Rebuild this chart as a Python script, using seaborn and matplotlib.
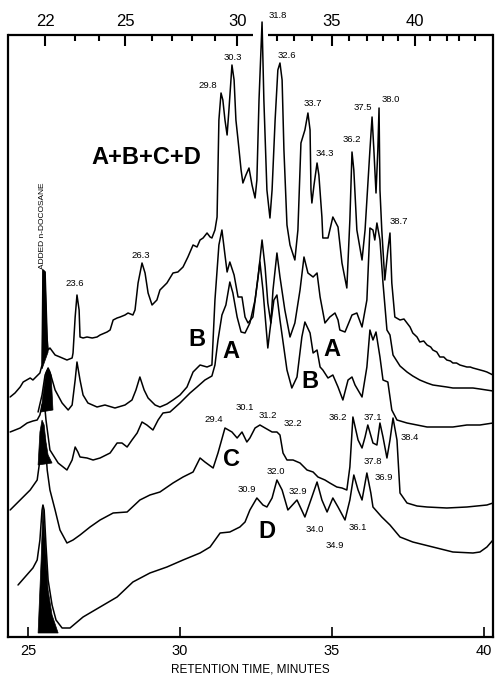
import matplotlib
matplotlib.use("Agg")
import matplotlib.pyplot as plt
import numpy as np
import pandas as pd
import seaborn as sns

# ---------------- data (retention time in minutes, detector response in arbitrary units) ----------------
abcd_time = [24.41, 24.57, 24.74, 24.84, 25.07, 25.16, 25.39, 25.46, 25.49, 25.56, 25.63, 25.66, 25.72, 25.89,
             26.05, 26.28, 26.45, 26.48, 26.55, 26.61, 26.68, 26.71, 26.81, 26.94, 27.11, 27.27, 27.37, 27.60,
             27.70, 27.80, 27.93, 28.03, 28.19, 28.29, 28.45, 28.52, 28.62, 28.75, 28.85, 28.95, 29.08, 29.24,
             29.34, 29.57, 29.77, 29.93, 30.10, 30.26, 30.43, 30.56, 30.66, 30.76, 30.89, 30.99, 31.05, 31.15,
             31.22, 31.25, 31.28, 31.35, 31.41, 31.48, 31.55, 31.61, 31.71, 31.78, 31.84, 31.91, 32.01, 32.07,
             32.17, 32.27, 32.37, 32.47, 32.53, 32.60, 32.70, 32.76, 32.86, 32.96, 33.03, 33.13, 33.22, 33.29,
             33.36, 33.42, 33.52, 33.62, 33.78, 33.88, 33.98, 34.11, 34.21, 34.28, 34.31, 34.34, 34.41, 34.51,
             34.57, 34.67, 34.70, 34.87, 35.03, 35.20, 35.33, 35.49, 35.59, 35.66, 35.72, 35.82, 35.99, 36.09,
             36.15, 36.25, 36.32, 36.38, 36.45, 36.51, 36.55, 36.58, 36.64, 36.74, 36.84, 36.91, 36.97, 37.07,
             37.24, 37.37, 37.47, 37.57, 37.66, 37.80, 37.89, 38.02, 38.13, 38.25, 38.32, 38.45, 38.55, 38.68,
             38.78, 38.90, 38.98, 39.10, 39.21, 39.33, 39.44, 39.55, 39.64, 39.76, 39.87, 40.00, 40.10, 40.30]
abcd_resp = [240, 244, 250, 255, 259, 257, 264, 272, 367, 365, 297, 287, 289, 282,
             280, 277, 279, 284, 320, 342, 327, 300, 299, 300, 299, 300, 302, 305,
             307, 317, 319, 320, 322, 324, 322, 327, 354, 374, 364, 344, 332, 337,
             347, 354, 364, 365, 370, 380, 392, 390, 397, 399, 404, 400, 399, 407,
             420, 467, 517, 544, 537, 517, 502, 527, 572, 557, 517, 497, 467, 454,
             462, 469, 452, 439, 457, 537, 615, 537, 447, 419, 447, 517, 567, 574,
             557, 487, 412, 392, 377, 407, 494, 507, 524, 507, 447, 434, 452, 474,
             462, 420, 399, 399, 420, 410, 374, 349, 417, 485, 467, 407, 377, 407,
             437, 487, 520, 487, 444, 487, 529, 447, 407, 357, 387, 404, 354, 320,
             317, 318, 314, 310, 304, 300, 295, 296, 292, 290, 287, 285, 280, 280,
             277, 276, 274, 274, 272, 271, 270, 270, 269, 268, 267, 266, 265, 262]

b_time = [25.33, 25.46, 25.56, 25.66, 25.72, 25.89, 26.12, 26.32, 26.45, 26.55, 26.61, 26.71, 26.81, 26.97,
          27.27, 27.53, 27.86, 28.19, 28.42, 28.55, 28.68, 28.82, 28.95, 29.18, 29.34, 29.57, 29.77, 30.00,
          30.23, 30.43, 30.66, 30.89, 31.05, 31.15, 31.28, 31.38, 31.48, 31.55, 31.64, 31.78, 31.91, 32.04,
          32.14, 32.24, 32.40, 32.57, 32.70, 32.80, 32.89, 32.99, 33.06, 33.19, 33.29, 33.45, 33.62, 33.78,
          33.95, 34.08, 34.21, 34.38, 34.51, 34.61, 34.77, 34.93, 35.10, 35.20, 35.26, 35.43, 35.66, 35.82,
          35.99, 36.15, 36.25, 36.35, 36.41, 36.48, 36.58, 36.68, 36.81, 36.91, 37.01, 37.24, 37.47, 37.66,
          37.89, 38.13, 38.32, 38.55, 38.78, 38.98, 39.31, 39.64, 39.87, 40.30]
b_resp = [225, 242, 262, 269, 265, 247, 234, 227, 232, 257, 275, 257, 242, 234,
          230, 232, 229, 232, 237, 247, 260, 247, 239, 232, 230, 233, 237, 242,
          250, 265, 272, 270, 272, 337, 392, 407, 382, 365, 375, 362, 340, 340,
          320, 314, 320, 360, 397, 370, 334, 314, 347, 384, 360, 327, 300, 314,
          347, 380, 364, 360, 364, 340, 314, 320, 324, 317, 307, 305, 322, 324,
          310, 337, 409, 407, 397, 414, 397, 354, 307, 302, 282, 271, 265, 261,
          257, 254, 252, 251, 250, 249, 249, 249, 248, 246]

a_time = [24.41, 24.74, 24.97, 25.16, 25.30, 25.39, 25.46, 25.53, 25.59, 25.72, 25.99, 26.28, 26.45, 26.55,
          26.64, 26.71, 26.94, 27.14, 27.37, 27.70, 27.93, 28.09, 28.26, 28.42, 28.59, 28.75, 28.91, 29.11,
          29.28, 29.44, 29.67, 30.00, 30.33, 30.56, 30.82, 31.05, 31.15, 31.25, 31.38, 31.51, 31.64, 31.74,
          31.88, 32.01, 32.14, 32.30, 32.47, 32.63, 32.73, 32.89, 32.96, 33.09, 33.19, 33.29, 33.52, 33.68,
          33.85, 34.01, 34.11, 34.28, 34.38, 34.51, 34.61, 34.70, 34.87, 35.03, 35.20, 35.36, 35.53, 35.66,
          35.76, 35.99, 36.15, 36.25, 36.35, 36.45, 36.58, 36.68, 36.84, 36.97, 37.14, 37.47, 37.80, 38.13,
          38.55, 38.98, 39.44, 39.87, 40.30]
a_resp = [205, 209, 214, 216, 217, 222, 232, 237, 217, 187, 174, 167, 177, 190,
          185, 180, 179, 177, 179, 184, 194, 194, 190, 197, 204, 215, 212, 207,
          217, 224, 225, 234, 244, 250, 257, 261, 272, 297, 322, 332, 355, 344,
          320, 305, 304, 314, 337, 375, 347, 289, 307, 337, 342, 317, 267, 249,
          260, 300, 315, 304, 284, 287, 270, 267, 259, 262, 250, 237, 257, 260,
          252, 240, 270, 307, 297, 305, 280, 257, 255, 227, 217, 214, 212, 210,
          210, 210, 212, 212, 214]

c_time = [24.41, 24.74, 25.07, 25.30, 25.39, 25.46, 25.49, 25.56, 25.63, 25.72, 25.89, 26.05, 26.28, 26.48,
          26.71, 27.04, 27.37, 27.80, 28.26, 28.68, 29.01, 29.34, 29.77, 30.10, 30.43, 30.66, 30.82, 31.09,
          31.25, 31.48, 31.71, 31.88, 32.04, 32.20, 32.30, 32.47, 32.63, 32.80, 33.03, 33.19, 33.29, 33.39,
          33.52, 33.72, 33.95, 34.18, 34.38, 34.54, 34.77, 34.93, 35.16, 35.33, 35.49, 35.59, 35.69, 35.86,
          35.99, 36.09, 36.18, 36.35, 36.48, 36.58, 36.68, 36.81, 36.91, 37.01, 37.14, 37.24, 37.47, 37.80,
          38.13, 38.78, 39.44, 40.10, 40.30]
c_resp = [127, 137, 147, 157, 177, 197, 201, 197, 167, 147, 127, 107, 94, 97,
          102, 110, 117, 124, 125, 137, 142, 145, 154, 160, 165, 179, 175, 169,
          184, 209, 205, 199, 205, 195, 199, 209, 212, 209, 205, 205, 202, 184,
          177, 177, 174, 167, 165, 160, 157, 154, 150, 149, 147, 170, 220, 197,
          189, 200, 212, 194, 192, 214, 200, 179, 197, 219, 197, 144, 134, 131,
          130, 129, 130, 132, 134]

d_time = [24.67, 24.90, 25.16, 25.30, 25.39, 25.46, 25.49, 25.53, 25.59, 25.66, 25.79, 25.92, 26.12, 26.38,
          26.81, 27.37, 27.93, 28.45, 29.01, 29.57, 30.10, 30.66, 30.99, 31.32, 31.64, 31.97, 32.14, 32.30,
          32.53, 32.73, 32.86, 33.03, 33.19, 33.36, 33.55, 33.85, 34.11, 34.34, 34.51, 34.67, 34.84, 35.03,
          35.20, 35.43, 35.59, 35.72, 35.86, 35.99, 36.15, 36.28, 36.35, 36.64, 36.91, 37.24, 37.66, 38.32,
          38.98, 39.64, 39.87, 40.10, 40.30]
d_resp = [52, 60, 69, 77, 97, 127, 132, 127, 92, 57, 32, 17, 9, 9,
          20, 30, 40, 55, 64, 70, 77, 84, 90, 104, 105, 110, 115, 127,
          139, 132, 130, 139, 157, 147, 127, 137, 120, 140, 155, 137, 125, 139,
          130, 117, 137, 162, 147, 137, 164, 144, 130, 120, 112, 100, 95, 90,
          85, 84, 85, 90, 97]

# added n-docosane peaks (filled black)
spike_abcd_time = [25.46, 25.49, 25.56, 25.63, 25.66]
spike_abcd_resp = [268, 367, 365, 297, 285]
spike_b_time = [25.43, 25.49, 25.59, 25.66, 25.76, 25.82]
spike_b_resp = [225, 242, 265, 269, 262, 227]
spike_ac_time = [25.33, 25.39, 25.46, 25.53, 25.59, 25.66, 25.79]
spike_ac_resp = [172, 205, 217, 212, 195, 182, 174]
spike_d_time = [25.33, 25.43, 25.49, 25.56, 25.66, 25.79, 25.99]
spike_d_resp = [4, 77, 132, 97, 47, 22, 4]

# top scale (carbon number) and its position on the retention-time scale
carbon_major = ["22", "25", "30", "35", "40"]
carbon_major_pos = [25.56, 28.19, 31.88, 35.00, 37.73]
carbon_minor_pos = [26.55, 27.34, 29.08, 29.74, 30.39, 31.15, 33.19, 33.75, 34.34,
                    35.56, 36.15, 36.68, 37.17, 38.22, 38.78, 39.18, 39.70]
time_ticks = [25, 30, 35, 40]

# peak annotations (label, time, response)
peak_labels = ["23.6", "26.3", "29.8", "30.3", "31.8", "32.6", "33.7", "34.3", "36.2", "37.5", "38.0", "38.7",
               "29.4", "30.1", "31.2", "32.2", "36.2", "37.1", "38.4", "37.8",
               "36.9", "30.9", "32.0", "32.9", "34.0", "34.9", "36.1"]
peak_label_time = [26.55, 28.72, 30.92, 31.74, 33.22, 33.52, 34.38, 34.77, 35.66, 36.02, 36.94, 37.20,
                   31.12, 32.14, 32.89, 33.72, 35.20, 36.35, 37.57, 36.35,
                   36.71, 32.20, 33.16, 33.88, 34.44, 35.10, 35.86]
peak_label_resp = [353, 381, 551, 580, 622, 581, 533, 483, 497, 529, 538, 415,
                   218, 230, 221, 213, 219, 220, 200, 176,
                   160, 147, 165, 146, 107, 92, 110]

trace_names = ["A+B+C+D", "B", "A", "A", "B", "C", "D"]
trace_name_time = [28.88, 30.56, 31.68, 35.00, 34.28, 31.71, 32.86]
trace_name_resp = [479, 298, 285, 287, 255, 177, 105]

# ---------------- figure ----------------
sns.set_theme(style="ticks")
plt.rcParams["font.family"] = ["Liberation Sans", "DejaVu Sans"]

fig = plt.figure(figsize=(4.95, 6.8), dpi=100)
ax = fig.add_axes([8 / 495, 43 / 680, 485 / 495, 602 / 680])
ax.set_xlim(24.34, 40.30)
ax.set_ylim(0, 602)

frames = []
for name, t, r in [("ABCD", abcd_time, abcd_resp), ("B", b_time, b_resp), ("A", a_time, a_resp),
                   ("C", c_time, c_resp), ("D", d_time, d_resp)]:
    frames.append(pd.DataFrame({"trace": name, "time": t, "resp": r}))
df = pd.concat(frames, ignore_index=True)

for name in ["ABCD", "B", "A", "C", "D"]:
    sub = df[df.trace == name]
    sns.lineplot(data=sub, x="time", y="resp", color="black", linewidth=1.1,
                 estimator=None, sort=False, ax=ax, clip_on=False)

for ft, fr in [(spike_abcd_time, spike_abcd_resp), (spike_b_time, spike_b_resp),
               (spike_ac_time, spike_ac_resp), (spike_d_time, spike_d_resp)]:
    ax.fill(ft, fr, color="black", lw=0.5, zorder=3)

# frame
ax.spines["top"].set_visible(False)
for s in ["left", "right", "bottom"]:
    ax.spines[s].set_linewidth(1.6)
    ax.spines[s].set_color("black")
ax.plot([0, 0.505], [1, 1], transform=ax.transAxes, color="black", lw=1.6, clip_on=False,
        solid_capstyle="butt")
ax.plot([0.536, 1.0], [1, 1], transform=ax.transAxes, color="black", lw=1.6, clip_on=False,
        solid_capstyle="butt")

ax.set_yticks([])
ax.set_xticks(time_ticks)
ax.set_xticklabels([str(v) for v in time_ticks])
ax.tick_params(axis="x", direction="in", length=7, width=1.2, labelsize=10.5, pad=5,
               bottom=True, top=False, colors="black")
ax.set_xlabel("RETENTION TIME, MINUTES", fontsize=8.5, labelpad=4, color="black")
ax.set_ylabel("")

ax2 = ax.twiny()
ax2.set_xlim(ax.get_xlim())
for s in ax2.spines.values():
    s.set_visible(False)
ax2.set_xticks(carbon_major_pos)
ax2.set_xticklabels(carbon_major)
ax2.set_xticks(carbon_minor_pos, minor=True)
ax2.tick_params(axis="x", which="major", direction="in", length=8, width=1.5, labelsize=12,
                pad=4, top=True, bottom=False, labeltop=True, labelbottom=False, colors="black")
ax2.tick_params(axis="x", which="minor", direction="in", length=4.5, width=1.5,
                top=True, bottom=False, colors="black")

# annotations
for s, x, y in zip(peak_labels, peak_label_time, peak_label_resp):
    ax.text(x, y, s, ha="center", va="center", fontsize=6.8, color="black", clip_on=False)
for s, x, y in zip(trace_names, trace_name_time, trace_name_resp):
    ax.text(x, y, s, ha="center", va="center", fontsize=17, fontweight="bold", color="black")
ax.text(25.49, 411, "ADDED n-DOCOSANE", rotation=90, ha="center", va="center", fontsize=6, color="black")

fig.savefig("out.png", dpi=100)
